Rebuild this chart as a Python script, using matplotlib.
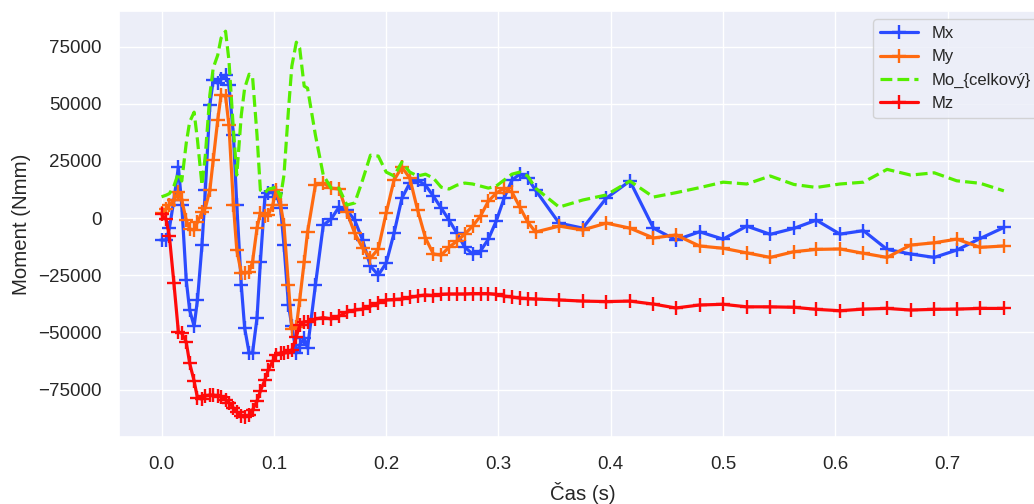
import matplotlib
matplotlib.use("Agg")
import matplotlib.pyplot as plt
import seaborn as sns

# cas (s)
cas = [0.000, 0.004, 0.007, 0.011, 0.015, 0.018, 0.022, 0.025, 0.029, 0.032,
       0.036, 0.039, 0.043, 0.046, 0.050, 0.053, 0.057, 0.060, 0.064, 0.067,
       0.071, 0.074, 0.078, 0.081, 0.085, 0.088, 0.092, 0.095, 0.099, 0.102,
       0.106, 0.109, 0.113, 0.116, 0.120, 0.123, 0.127, 0.130,
       0.137, 0.144, 0.151, 0.158, 0.165, 0.172, 0.179, 0.186, 0.193, 0.200,
       0.207, 0.214, 0.221, 0.228, 0.235, 0.242, 0.249, 0.256, 0.263, 0.270,
       0.277, 0.284, 0.291, 0.298, 0.305, 0.312, 0.319, 0.326, 0.333,
       0.354, 0.375, 0.396, 0.417, 0.438, 0.458, 0.479, 0.500, 0.521, 0.542,
       0.563, 0.583, 0.604, 0.625, 0.646, 0.667, 0.688, 0.708, 0.729, 0.750]

mx = [-9600, -9600, -4400, 7900, 22300, 5700, -27100, -40200, -47200, -35800,
      -11800, 12200, 49400, 60300, 59000, 60700, 62500, 58100, 36300, 5700,
      -29300, -48100, -59000, -59000, -43700, -19200, 9200, 10900, 11800, 10900,
      4400, -11800, -38000, -47200, -59000, -55500, -52400, -56800,
      -29300, -3100, -400, 4800, 3500, -900, -9600, -21000, -24900, -19700,
      -6600, 8700, 15300, 16600, 14400, 9600, 4400, -900, -6600, -12700,
      -15700, -14400, -9200, -1300, 8700, 16600, 19200, 17500, 12200,
      -2200, -4400, 8700, 16200, -4400, -9600, -6000, -9200, -3500, -7100,
      -4500, -900, -7000, -5500, -13700, -15700, -17200, -14000, -8900, -4100]

my = [2200, 3900, 5700, 7900, 11400, 7900, -900, -4800, -5200, -1700,
      2600, 4400, 12200, 25300, 42800, 53800, 53300, 40600, 5700, -14000,
      -24000, -24000, -23600, -19200, -4400, 2200, 900, 1300, 5700, 12200,
      5700, -3100, -29300, -48500, -47500, -35800, -19200, -6100,
      14400, 15300, 13100, 12700, 2600, -6600, -13100, -17500, -13500, 2200,
      16600, 22300, 17500, 3500, -8700, -15700, -16200, -12700, -10100, -7000,
      -3500, 900, 7400, 10900, 13100, 11400, 4800, -1700, -6100,
      -3500, -5200, -2200, -4400, -8700, -7400, -12200, -13200, -15200, -17200,
      -14700, -13700, -13500, -15400, -17200, -11800, -10800, -9200, -12800, -12200]

mo = [9300, 10000, 10700, 14000, 19700, 16200, 32800, 42000, 46300, 34100,
      14400, 27500, 53800, 65600, 71200, 78700, 81700, 69000, 38500, 18800,
      45000, 56800, 62900, 62000, 36300, 12200, 10900, 12700, 13100, 13700,
      9200, 18800, 47200, 66400, 76900, 74300, 57700, 56800,
      36300, 18800, 13100, 13100, 5700, 6600, 16600, 27500, 27100, 20100,
      18400, 24500, 20100, 18400, 19200, 17500, 13500, 12700, 14400, 15300,
      14900, 14000, 13100, 14000, 16600, 19200, 20100, 18400, 13100,
      4800, 7900, 10100, 16200, 9200, 11100, 13300, 15700, 14900, 18400,
      14700, 13400, 14900, 15700, 21300, 18800, 19800, 16300, 15200, 11900]

mz = [1800, -500, -8000, -28400, -49800, -50300, -54200, -63400, -71200, -78700,
      -79100, -77800, -77400, -77400, -77800, -78200, -79500, -80800, -83000, -84800,
      -86500, -87000, -86100, -83900, -80000, -75600, -70800, -66400, -62500, -59900,
      -59000, -59000, -58600, -57700, -52000, -46800, -45300, -45300,
      -44100, -43500, -44100, -42800, -41100, -40200, -39800, -38500, -37100, -35800,
      -35600, -35400, -34700, -34100, -33600, -33900, -33400, -33200, -33200, -33200,
      -33000, -33000, -33000, -33400, -34100, -34500, -35000, -35200, -35400,
      -35800, -36300, -36500, -36300, -37600, -39300, -38000, -37700, -38800, -38800,
      -39000, -39900, -40500, -39800, -39500, -40200, -39900, -39800, -39500, -39500]

sns.set_theme(style="darkgrid", rc={"axes.facecolor": "#eceef8"})
plt.rcParams['font.family'] = ['Liberation Sans', 'DejaVu Sans']

fig, ax = plt.subplots(figsize=(10.34, 5.04), dpi=100)
# obrazek je vpravo oriznuty, osa konci za okrajem
fig.subplots_adjust(left=0.1155, right=1.0116, top=0.978, bottom=0.133)

ax.plot(cas, mx, color='#2b4bff', marker='+', ms=10, mew=1.7, lw=2.3, label='Mx')
ax.plot(cas, my, color='#ff6a10', marker='+', ms=10, mew=1.7, lw=2.3, label='My')
ax.plot(cas, mo, color='#55ee00', ls='--', lw=2.3, label='Mo_{celkový}')
ax.plot(cas, mz, color='#ff0a0a', marker='+', ms=10, mew=1.7, lw=2.3, label='Mz')

ax.set_xlim(-0.0375, 0.7875)
ax.set_ylim(-95700, 90500)
ax.set_xticks([0.0, 0.1, 0.2, 0.3, 0.4, 0.5, 0.6, 0.7])
ax.set_yticks([-75000, -50000, -25000, 0, 25000, 50000, 75000])
ax.tick_params(labelsize=13.5)
ax.tick_params(axis='y', pad=7)
ax.tick_params(axis='x', pad=8)
ax.set_xlabel("Čas (s)", fontsize=14.7, labelpad=6)
ax.set_ylabel("Moment (Nmm)", fontsize=14.7, labelpad=5)
ax.legend(loc='upper right', fontsize=12, handlelength=2.3)

plt.savefig("out.png")
